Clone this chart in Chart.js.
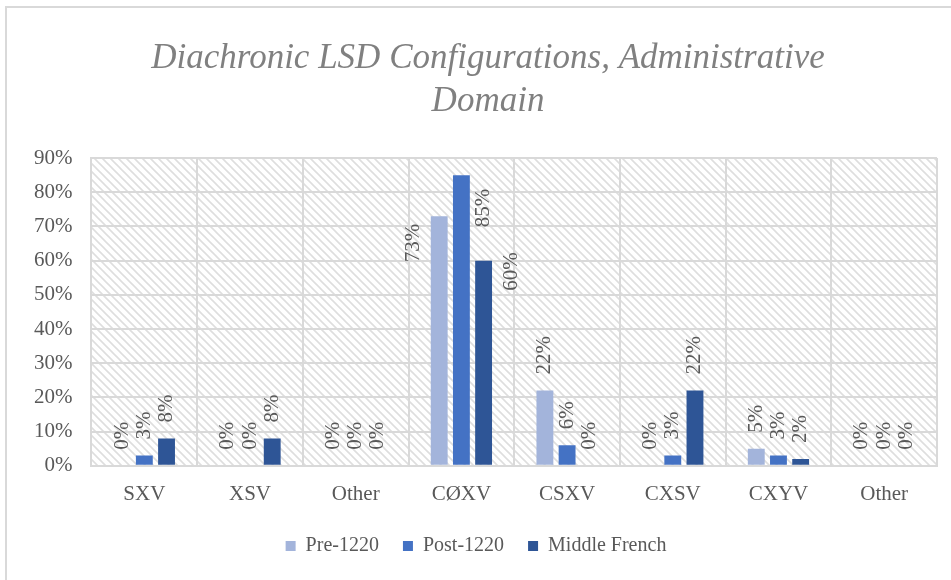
<!DOCTYPE html>
<html>
<head>
<meta charset="utf-8">
<script src="https://cdn.jsdelivr.net/npm/chart.js@4.4.1/dist/chart.umd.min.js"></script>
<style>
  html, body { margin: 0; padding: 0; background: #fff; overflow: hidden; }
  #frame {
    position: absolute; left: 5px; top: 6px; width: 960px; height: 600px;
    border-left: 2px solid #d9d9d9; border-top: 2px solid #d9d9d9;
  }
  #wrap { position: absolute; left: 0; top: 0; width: 951px; height: 580px; }
</style>
</head>
<body>
<div id="frame"></div>
<div id="wrap"><canvas id="myChart" width="951" height="580"></canvas></div>
<script>
// chart data
const categories = ['SXV', 'XSV', 'Other', 'CØXV', 'CSXV', 'CXSV', 'CXYV', 'Other'];
const pre1220 = [0, 0, 0, 73, 22, 0, 5, 0];
const post1220 = [3, 0, 0, 85, 6, 3, 3, 0];
const middleFrench = [8, 8, 0, 60, 0, 22, 2, 0];
const yTicks = [0, 10, 20, 30, 40, 50, 60, 70, 80, 90];

const serif = "'Liberation Serif', 'DejaVu Serif', serif";
const textGrey = '#595959';
const gridGrey = '#d9d9d9';

// Excel moved these labels beside the tall bars (category,dataset -> dx, dy)
const labelNudge = { '3,0': [-26, 62], '3,1': [22, 68], '3,2': [28, 46] };

// diagonal hatching behind the plot area
const hatchPlugin = {
  id: 'hatch',
  afterLayout(chart) {
    // title sits a little right of the canvas centre in the original
    chart.titleBlock.left += 12;
    chart.titleBlock.right += 12;
  },
  beforeDraw(chart) {
    const { ctx, chartArea: a } = chart;
    const tile = document.createElement('canvas');
    tile.width = 8; tile.height = 8;
    const t = tile.getContext('2d');
    t.strokeStyle = '#dedede';
    t.lineWidth = 1.6;
    t.beginPath();
    t.moveTo(-2, -2); t.lineTo(10, 10);
    t.moveTo(-2, 6); t.lineTo(2, 10);
    t.moveTo(6, -2); t.lineTo(10, 2);
    t.stroke();
    ctx.save();
    ctx.fillStyle = ctx.createPattern(tile, 'repeat');
    ctx.fillRect(a.left, a.top, a.right - a.left, a.bottom - a.top);
    ctx.restore();
  }
};

// rotated value labels above each bar
const valueLabels = {
  id: 'valueLabels',
  afterDatasetsDraw(chart) {
    const ctx = chart.ctx;
    ctx.save();
    ctx.font = '21px ' + serif;
    ctx.fillStyle = textGrey;
    ctx.textAlign = 'left';
    ctx.textBaseline = 'middle';
    chart.data.datasets.forEach((ds, di) => {
      chart.getDatasetMeta(di).data.forEach((bar, i) => {
        const nudge = labelNudge[i + ',' + di] || [0, 0];
        ctx.save();
        ctx.translate(bar.x + nudge[0], bar.y - 16 + nudge[1]);
        ctx.rotate(-Math.PI / 2);
        ctx.fillText(ds.data[i] + '%', 0, 0);
        ctx.restore();
      });
    });
    ctx.restore();
  }
};

const ctx = document.getElementById('myChart');
const myChart = new Chart(ctx, {
  type: 'bar',
  data: {
    labels: categories,
    datasets: [
      { label: 'Pre-1220', data: pre1220, backgroundColor: '#a3b4db' },
      { label: 'Post-1220', data: post1220, backgroundColor: '#4472c4' },
      { label: 'Middle French', data: middleFrench, backgroundColor: '#2e5596' }
    ]
  },
  options: {
    responsive: false,
    animation: false,
    layout: { padding: { left: 15, right: 14, top: 0, bottom: 14 } },
    datasets: {
      bar: { categoryPercentage: 0.63, barPercentage: 0.76 }
    },
    scales: {
      x: {
        grid: { color: gridGrey, lineWidth: 2, drawTicks: false, offset: true },
        border: { color: gridGrey, width: 2 },
        ticks: { color: textGrey, font: { family: serif, size: 21 }, padding: 16 },
        afterFit(scale) { scale.height -= 11; }
      },
      y: {
        min: 0,
        max: 90,
        afterBuildTicks(scale) { scale.ticks = yTicks.map(v => ({ value: v })); },
        grid: { color: gridGrey, lineWidth: 2, drawTicks: false },
        border: { color: gridGrey, width: 2 },
        ticks: {
          color: textGrey,
          font: { family: serif, size: 21 },
          padding: 19,
          callback: v => v + '%'
        }
      }
    },
    plugins: {
      title: {
        display: true,
        text: ['Diachronic LSD Configurations, Administrative', 'Domain'],
        color: '#808080',
        font: { family: serif, style: 'italic', weight: 'normal', size: 35, lineHeight: 1.23 },
        padding: { top: 37, bottom: 35 }
      },
      legend: {
        position: 'bottom',
        labels: {
          color: textGrey,
          font: { family: serif, size: 20 },
          boxWidth: 10,
          boxHeight: 10,
          padding: 24
        }
      },
      tooltip: { enabled: false }
    }
  },
  plugins: [hatchPlugin, valueLabels]
});
</script>
</body>
</html>
